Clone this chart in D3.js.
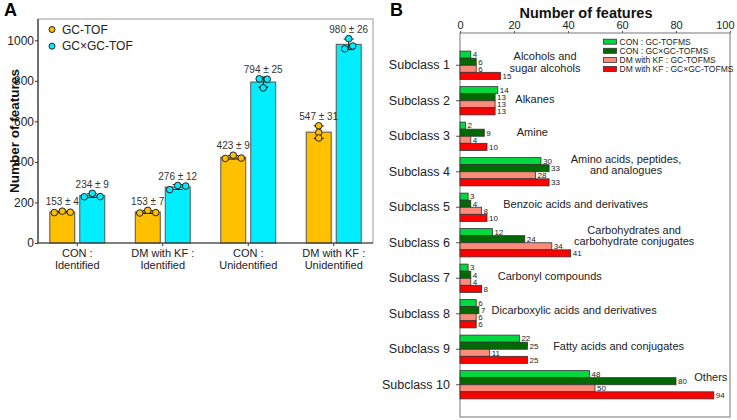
<!DOCTYPE html>
<html><head><meta charset="utf-8">
<script src="https://cdn.jsdelivr.net/npm/d3@7/dist/d3.min.js"></script>
<style>body{margin:0;background:#fff}svg{display:block;font-family:Arial,"Liberation Sans",sans-serif}</style>
</head><body><svg id="c" width="737" height="420"></svg>
<script>
// ---------- Panel A data ----------
const categoriesA = ["CON : Identified", "DM with KF : Identified", "CON : Unidentified", "DM with KF : Unidentified"];
const seriesA = ["GC-TOF", "GC×GC-TOF"];
const meanGC = [153, 153, 423, 547];
const sdGC = [4, 7, 9, 31];
const meanGCxGC = [234, 276, 794, 980];
const sdGCxGC = [9, 12, 25, 26];
const repGC = [[150, 157, 152], [148, 161, 150], [417, 433, 419], [578, 545, 518]];
const repGCxGC = [[228, 245, 229], [263, 284, 281], [810, 765, 808], [1008, 958, 972]];
const ticksA = [0, 200, 400, 600, 800, 1000];

// ---------- Panel B data ----------
const subclasses = ["Subclass 1","Subclass 2","Subclass 3","Subclass 4","Subclass 5","Subclass 6","Subclass 7","Subclass 8","Subclass 9","Subclass 10"];
const classNames = [["Alcohols and","sugar alcohols"],["Alkanes"],["Amine"],["Amino acids, peptides,","and analogues"],["Benzoic acids and derivatives"],["Carbohydrates and","carbohydrate conjugates"],["Carbonyl compounds"],["Dicarboxylic acids and derivatives"],["Fatty acids and conjugates"],["Others"]];
const seriesB = ["CON : GC-TOFMS", "CON : GC×GC-TOFMS", "DM with KF : GC-TOFMS", "DM with KF : GC×GC-TOFMS"];
const conGC = [4, 14, 2, 30, 3, 12, 3, 6, 22, 48];
const conGCxGC = [6, 13, 9, 33, 4, 24, 4, 7, 25, 80];
const dmGC = [6, 13, 4, 28, 8, 34, 4, 6, 11, 50];
const dmGCxGC = [15, 13, 10, 33, 10, 41, 8, 6, 25, 94];
const ticksB = [0, 20, 40, 60, 80, 100];

// ---------- layout (not data) ----------
const colorsA = ["#FFC000", "#00EEFF"];
const colorsB = ["#00D840", "#006A00", "#FA8C7C", "#FF0000"];
// annotation layout per class: [x in data units, anchor, y offset of first line from row center]
const annLayout = [[31.5,"middle",-9],[20.5,"start",-2],[21,"start",-4],[61.5,"middle",-13],[16,"start",-3],[64.5,"middle",-13],[14,"start",-2],[11.7,"start",-4],[34.5,"start",-3],[99,"end",-8]];

const svg = d3.select("#c");

// ================= PANEL A =================
const A = {l: 38, r: 373, t: 19, b: 243};
const yA = d3.scaleLinear().domain([0, 1105]).range([A.b, A.t]);
const xA = d3.scaleBand().domain(categoriesA).range([A.l, A.r]).paddingInner(0.357).paddingOuter(0.138);
const xSub = d3.scaleBand().domain(seriesA).range([0, xA.bandwidth()]).paddingInner(0.167);

svg.append("text").attr("x", 4).attr("y", 16).attr("font-size", 18).attr("font-weight", "bold").text("A");
svg.append("rect").attr("x", A.l).attr("y", A.t).attr("width", A.r - A.l).attr("height", A.b - A.t)
  .attr("fill", "none").attr("stroke", "#999").attr("stroke-width", 1);

const dataA = categoriesA.map((c, i) => [
  {cat: c, s: seriesA[0], mean: meanGC[i], sd: sdGC[i], reps: repGC[i], color: colorsA[0]},
  {cat: c, s: seriesA[1], mean: meanGCxGC[i], sd: sdGCxGC[i], reps: repGCxGC[i], color: colorsA[1]}
]).flat();

const gA = svg.append("g");
gA.selectAll("rect.bar").data(dataA).join("rect").attr("class", "bar")
  .attr("x", d => xA(d.cat) + xSub(d.s)).attr("width", xSub.bandwidth())
  .attr("y", d => yA(d.mean)).attr("height", d => yA(0) - yA(d.mean))
  .attr("fill", d => d.color).attr("stroke", "#555").attr("stroke-width", 1);

const r = 3.3;
dataA.forEach(d => {
  const cx = xA(d.cat) + xSub(d.s) + xSub.bandwidth() / 2;
  const eb = gA.append("g").attr("stroke", "#111").attr("stroke-width", 1);
  eb.append("line").attr("x1", cx).attr("x2", cx).attr("y1", yA(d.mean - d.sd)).attr("y2", yA(d.mean + d.sd));
  eb.append("line").attr("x1", cx - 5).attr("x2", cx + 5).attr("y1", yA(d.mean - d.sd)).attr("y2", yA(d.mean - d.sd));
  eb.append("line").attr("x1", cx - 5).attr("x2", cx + 5).attr("y1", yA(d.mean + d.sd)).attr("y2", yA(d.mean + d.sd));
  const idx = d.reps.map((v, i) => i).sort((a, b) => d.reps[a] - d.reps[b]);
  const clusters = [];
  idx.forEach(i => {
    const last = clusters[clusters.length - 1];
    if (last && Math.abs(yA(d.reps[last[last.length - 1]]) - yA(d.reps[i])) < 5) last.push(i);
    else clusters.push([i]);
  });
  const offs = [];
  clusters.forEach(cl => {
    const ordered = cl.slice().sort((a, b) => a - b);
    ordered.forEach((i, k) => offs[i] = (k - (ordered.length - 1) / 2) * 8);
  });
  d.reps.forEach((v, i) => {
    gA.append("circle").attr("cx", cx + offs[i]).attr("cy", yA(v)).attr("r", r)
      .attr("fill", d.color).attr("stroke", "#222").attr("stroke-width", 1);
  });
  const topY = Math.min(yA(d.mean + d.sd), yA(d3.max(d.reps)) - r);
  gA.append("text").attr("x", cx).attr("y", topY - 2.5).attr("text-anchor", "middle")
    .attr("font-size", 10).attr("fill", "#333").text(`${d.mean} ± ${d.sd}`);
});

// axes A
const axA = svg.append("g").attr("transform", `translate(${A.l},0)`)
  .call(d3.axisLeft(yA).tickValues(ticksA).tickFormat(d3.format("d")).tickSize(3).tickPadding(1).tickSizeOuter(0));
axA.select(".domain").remove();
axA.selectAll("text").attr("font-size", 12).attr("fill", "#222").attr("font-family", "Arial,'Liberation Sans',sans-serif");
axA.selectAll("line").attr("stroke", "#333");
svg.append("line").attr("x1", A.l).attr("x2", A.l).attr("y1", A.t).attr("y2", A.b).attr("stroke", "#333").attr("stroke-width", 1.2);
svg.append("line").attr("x1", A.l).attr("x2", A.r).attr("y1", A.b).attr("y2", A.b).attr("stroke", "#333").attr("stroke-width", 1.2);

const axAx = svg.append("g").attr("transform", `translate(0,${A.b})`)
  .call(d3.axisBottom(xA).tickSize(3).tickSizeOuter(0).tickFormat(""));
axAx.select(".domain").remove();
axAx.selectAll("line").attr("stroke", "#333");
categoriesA.forEach(c => {
  const parts = c.split(": ");
  const cx = xA(c) + xA.bandwidth() / 2;
  const t = svg.append("text").attr("x", cx).attr("y", 257)
    .attr("text-anchor", "middle").attr("font-size", 11).attr("fill", "#222");
  t.append("tspan").attr("x", cx).attr("dy", 0).text(parts[0] + ":");
  t.append("tspan").attr("x", cx).attr("dy", 11.5).text(parts[1]);
});
svg.append("text").attr("transform", `translate(19,${(A.t + A.b) / 2}) rotate(-90)`).attr("text-anchor", "middle")
  .attr("font-size", 13.5).attr("font-weight", "bold").attr("fill", "#111").text("Number of features");

// legend A
seriesA.forEach((s, i) => {
  svg.append("circle").attr("cx", 52).attr("cy", 29.5 + i * 16.7).attr("r", 3)
    .attr("fill", colorsA[i]).attr("stroke", "#222").attr("stroke-width", 1);
  svg.append("text").attr("x", 62).attr("y", 29.5 + i * 16.7).attr("dy", "0.35em")
    .attr("font-size", 12).attr("fill", "#222").text(s);
});

// ================= PANEL B =================
const B = {l: 460, r: 730, t: 33, b: 417};
const xB = d3.scaleLinear().domain([0, 100]).range([B.l, B.r]);
const yB = d3.scaleBand().domain(subclasses).range([B.t, B.b]).paddingInner(0.203).paddingOuter(0.51);
const ySub = d3.scaleBand().domain(seriesB).range([0, yB.bandwidth()]);

svg.append("text").attr("x", 390).attr("y", 16).attr("font-size", 18).attr("font-weight", "bold").text("B");
svg.append("text").attr("x", 586).attr("y", 18).attr("text-anchor", "middle")
  .attr("font-size", 14.5).attr("font-weight", "bold").attr("fill", "#111").text("Number of features");
svg.append("rect").attr("x", B.l).attr("y", B.t).attr("width", B.r - B.l).attr("height", B.b - B.t)
  .attr("fill", "none").attr("stroke", "#777").attr("stroke-width", 1);

const axBt = svg.append("g").attr("transform", `translate(0,${B.t})`)
  .call(d3.axisTop(xB).tickValues(ticksB).tickSize(2).tickPadding(2).tickSizeOuter(0));
axBt.select(".domain").remove();
axBt.selectAll("text").attr("font-size", 11).attr("fill", "#222").attr("font-family", "Arial,'Liberation Sans',sans-serif");
axBt.selectAll("text").filter(d => d === 100).attr("text-anchor", "end").attr("dx", 4);
axBt.selectAll("line").attr("stroke", "#555");

const axBl = svg.append("g").attr("transform", `translate(${B.l},0)`)
  .call(d3.axisLeft(yB).tickSize(4).tickPadding(6).tickSizeOuter(0));
axBl.select(".domain").remove();
axBl.selectAll("text").attr("font-size", 12.5).attr("fill", "#222").attr("font-family", "Arial,'Liberation Sans',sans-serif");
axBl.selectAll("line").attr("stroke", "#555");

const valsB = [conGC, conGCxGC, dmGC, dmGCxGC];
const dataB = [];
subclasses.forEach((sc, i) => seriesB.forEach((s, j) => dataB.push({sc, s, v: valsB[j][i], color: colorsB[j]})));
const gB = svg.append("g");
gB.selectAll("rect").data(dataB).join("rect")
  .attr("x", xB(0)).attr("y", d => yB(d.sc) + ySub(d.s)).attr("height", ySub.bandwidth())
  .attr("width", d => xB(d.v) - xB(0)).attr("fill", d => d.color).attr("stroke", "#333").attr("stroke-width", 0.8);
gB.selectAll("text").data(dataB).join("text")
  .attr("x", d => xB(d.v) + 2).attr("y", d => yB(d.sc) + ySub(d.s) + ySub.bandwidth() / 2).attr("dy", "0.35em")
  .attr("font-size", 8).attr("fill", "#222").text(d => d.v);

// class annotations
classNames.forEach((lines, i) => {
  const [xv, anchor, dy] = annLayout[i];
  const cy = yB(subclasses[i]) + yB.bandwidth() / 2 + dy;
  const t = svg.append("text").attr("text-anchor", anchor).attr("font-size", 11).attr("fill", "#222");
  lines.forEach((ln, k) => t.append("tspan").attr("x", xB(xv)).attr("y", cy + k * 11.5).attr("dy", "0.35em").text(ln));
});

// legend B
seriesB.forEach((s, i) => {
  const y = 41.7 + i * 9.1;
  svg.append("rect").attr("x", 603.5).attr("y", y - 2.5).attr("width", 13).attr("height", 5)
    .attr("fill", colorsB[i]).attr("stroke", "#333").attr("stroke-width", 0.8);
  svg.append("text").attr("x", 619.5).attr("y", y).attr("dy", "0.35em").attr("font-size", 8.5).attr("fill", "#222").text(s);
});
</script></body></html>
